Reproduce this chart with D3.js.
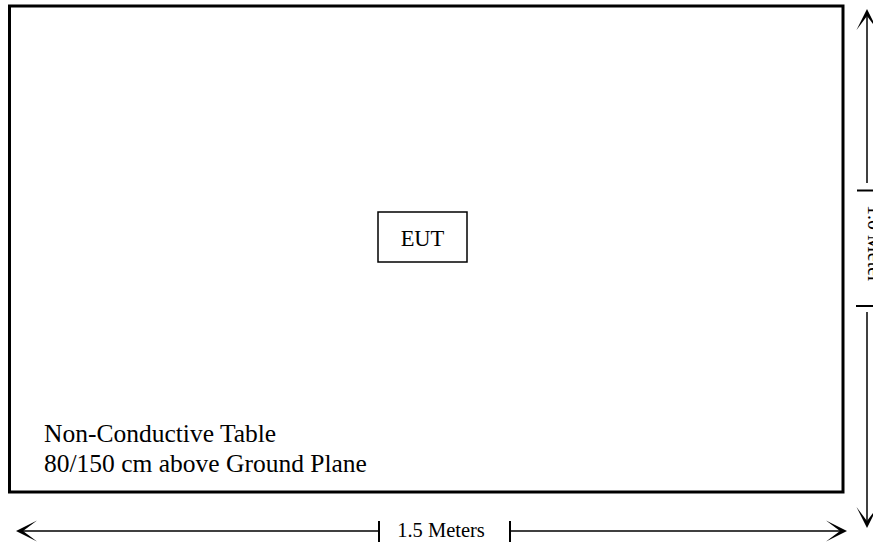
<!DOCTYPE html>
<html>
<head>
<meta charset="utf-8">
<script src="https://cdn.jsdelivr.net/npm/d3@7"></script>
<style>
html,body{margin:0;padding:0;background:#fff;overflow:hidden;}
svg{display:block;font-family:"Liberation Serif","Times New Roman",serif;}
</style>
</head>
<body>
<svg id="c" width="873" height="549"></svg>
<script>
// ---- data ----
const tableSize = [1.5, 1.0];            // metres: width, depth
const dimensionLabels = ["1.5 Meters", "1.0 Meter"];
const eutLabel = ["EUT"];
const tableLabels = ["Non-Conductive Table", "80/150 cm above Ground Plane"];

const svg = d3.select("#c");
const x = d3.scaleLinear().domain([0, tableSize[0]]).range([9.5, 843]);
const y = d3.scaleLinear().domain([0, tableSize[1]]).range([6, 492]);

// table outline
svg.append("rect")
  .attr("x", x(0)).attr("y", y(0))
  .attr("width", x(tableSize[0]) - x(0))
  .attr("height", y(tableSize[1]) - y(0))
  .attr("fill", "none").attr("stroke", "#000").attr("stroke-width", 3);

// EUT box
svg.append("rect")
  .attr("x", 378).attr("y", 212).attr("width", 89).attr("height", 50)
  .attr("fill", "none").attr("stroke", "#000").attr("stroke-width", 1.5);
svg.append("text").text(eutLabel[0])
  .attr("x", 422.5).attr("y", 246).attr("text-anchor", "middle")
  .attr("font-size", 22.5);

// table labels
svg.selectAll("text.tl").data(tableLabels).join("text")
  .attr("class", "tl")
  .attr("x", 44).attr("y", (d, i) => 442 + i * 30)
  .attr("font-size", 25.5)
  .text(d => d);

// arrowhead generator: tip at origin, pointing toward -x
const headPath = "M0,0 L21,-10.5 L7,0 L21,10.5 Z";
function head(px, py, angle) {
  svg.append("path").attr("d", headPath)
    .attr("transform", `translate(${px},${py}) rotate(${angle})`)
    .attr("fill", "#000");
}
function line(x1, y1, x2, y2, w) {
  svg.append("line").attr("x1", x1).attr("y1", y1).attr("x2", x2).attr("y2", y2)
    .attr("stroke", "#000").attr("stroke-width", w);
}

// bottom dimension (width)
const by = 531;
line(20, by, 379, by, 1.5);
line(379, 521, 379, 542, 2);
line(510, by, 843, by, 1.5);
line(510, 521, 510, 542, 2);
head(16, by, 0);
head(847, by, 180);
svg.append("text").text(dimensionLabels[0])
  .attr("x", 441).attr("y", 537).attr("text-anchor", "middle")
  .attr("font-size", 20.5);

// right dimension (depth)
const rx = 867;
line(rx, 13, rx, 183, 1.5);
line(857, 190.5, 873, 190.5, 2);
line(rx, 312, rx, 524, 1.5);
line(856, 306, 873, 306, 2);
head(rx, 9, 90);
head(rx, 528, -90);
svg.append("text").text(dimensionLabels[1])
  .attr("transform", "translate(868,205) rotate(90)")
  .attr("font-size", 20);
</script>
</body>
</html>
